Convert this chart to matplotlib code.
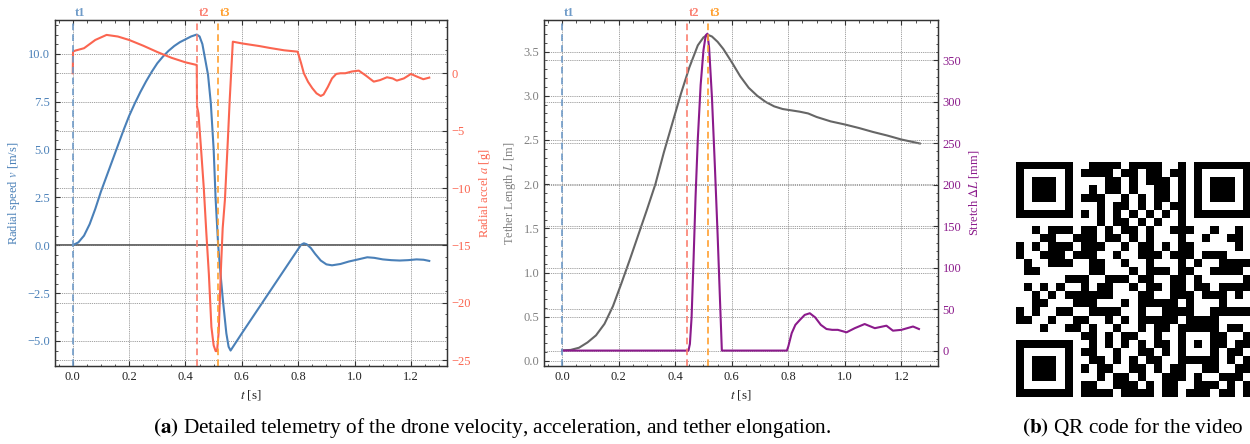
import numpy as np
import matplotlib
matplotlib.use("Agg")
import matplotlib.pyplot as plt
import matplotlib.transforms as mtransforms
from matplotlib.ticker import AutoMinorLocator, MultipleLocator

plt.rcParams.update({
    "font.family": ["Liberation Serif", "DejaVu Serif"],
    "mathtext.fontset": "stix",
    "font.size": 9,
    "xtick.direction": "in",
    "ytick.direction": "in",
    "xtick.major.size": 3.5,
    "xtick.minor.size": 1.8,
    "ytick.major.size": 3.5,
    "ytick.minor.size": 1.8,
    "axes.linewidth": 0.9,
})

# event markers [s]
T1, T2, T3 = 0.0, 0.441, 0.515

# radial speed v [m/s]
t_speed = [0.000, 0.020, 0.040, 0.060, 0.080, 0.100, 0.120, 0.140, 0.160, 0.180,
           0.200, 0.220, 0.240, 0.260, 0.280, 0.300, 0.320, 0.340, 0.360, 0.380,
           0.400, 0.420, 0.440, 0.450, 0.460, 0.470, 0.480, 0.490, 0.500, 0.507,
           0.516, 0.525, 0.533, 0.545, 0.553, 0.560, 0.600, 0.650, 0.700, 0.750,
           0.800, 0.810, 0.820, 0.830, 0.845, 0.860, 0.880, 0.900, 0.920, 0.950,
           0.980, 1.010, 1.045, 1.070, 1.100, 1.130, 1.160, 1.190, 1.220, 1.245, 1.265]
speed = [0.00, 0.15, 0.50, 1.10, 1.90, 2.80, 3.60, 4.40, 5.20, 6.00,
         6.75, 7.40, 8.00, 8.55, 9.05, 9.50, 9.85, 10.15, 10.40, 10.60,
         10.75, 10.90, 11.00, 10.90, 10.50, 9.70, 8.90, 7.40, 5.00, 2.40,
         0.00, -1.60, -2.90, -4.60, -5.30, -5.50, -4.60, -3.50, -2.40, -1.30,
         -0.20, 0.02, 0.10, 0.05, -0.15, -0.45, -0.80, -1.00, -1.05, -0.98,
         -0.85, -0.75, -0.63, -0.66, -0.74, -0.78, -0.80, -0.78, -0.74, -0.76, -0.82]

# radial acceleration a [g]
t_accel = [0.000, 0.001, 0.010, 0.040, 0.080, 0.120, 0.160, 0.200, 0.250, 0.300,
           0.350, 0.400, 0.440, 0.441, 0.446, 0.455, 0.465, 0.474, 0.483, 0.492,
           0.500, 0.507, 0.512, 0.518, 0.525, 0.532, 0.540, 0.550, 0.557, 0.568,
           0.600, 0.662, 0.700, 0.750, 0.798, 0.810, 0.820, 0.835, 0.850, 0.865,
           0.880, 0.890, 0.905, 0.920, 0.935, 0.950, 0.967, 0.990, 1.015, 1.040,
           1.068, 1.090, 1.115, 1.135, 1.150, 1.175, 1.200, 1.222, 1.244, 1.265]
accel = [0.00, 1.90, 1.98, 2.18, 2.90, 3.34, 3.20, 2.90, 2.40, 1.85,
         1.35, 0.95, 0.72, -2.90, -3.50, -6.50, -10.00, -13.90, -17.50, -22.10,
         -23.70, -24.20, -24.20, -22.50, -17.50, -13.50, -11.00, -6.00, -2.30, 2.75,
         2.60, 2.37, 2.20, 2.00, 1.88, 0.90, 0.00, -0.75, -1.30, -1.75,
         -1.98, -1.85, -1.20, -0.45, -0.06, 0.00, 0.00, 0.15, 0.23, -0.20,
         -0.73, -0.60, -0.35, -0.45, -0.64, -0.45, -0.06, -0.30, -0.52, -0.38]

# tether length L [m]
t_len = [0.00, 0.03, 0.06, 0.09, 0.12, 0.15, 0.18, 0.21, 0.24, 0.27,
         0.30, 0.33, 0.36, 0.39, 0.42, 0.45, 0.48, 0.50, 0.515, 0.53,
         0.55, 0.57, 0.60, 0.63, 0.66, 0.69, 0.72, 0.75, 0.78, 0.81,
         0.84, 0.87, 0.90, 0.95, 1.00, 1.05, 1.10, 1.15, 1.20, 1.265]
length = [0.12, 0.125, 0.15, 0.21, 0.29, 0.42, 0.62, 0.88, 1.15, 1.43,
          1.71, 2.00, 2.36, 2.69, 3.02, 3.32, 3.57, 3.66, 3.69, 3.67,
          3.61, 3.53, 3.38, 3.22, 3.09, 3.00, 2.93, 2.88, 2.85, 2.835,
          2.82, 2.80, 2.76, 2.71, 2.675, 2.635, 2.59, 2.55, 2.505, 2.46]

# tether stretch dL [mm]
t_stretch = [0.000, 0.447, 0.452, 0.458, 0.465, 0.472, 0.480, 0.490, 0.500, 0.508,
             0.514, 0.520, 0.530, 0.540, 0.550, 0.558, 0.565, 0.795, 0.800, 0.812,
             0.825, 0.841, 0.858, 0.876, 0.895, 0.915, 0.935, 0.955, 0.975, 1.006,
             1.035, 1.070, 1.106, 1.147, 1.170, 1.200, 1.241, 1.262]
stretch = [0, 0, 8, 40, 110, 185, 255, 320, 362, 380,
           382, 365, 305, 225, 140, 65, 0, 0, 5, 21,
           31, 37, 43, 45, 40, 31, 26, 25, 25, 22,
           27, 32, 27, 30, 24, 25, 29, 26]

# QR code modules ('#' = dark)
qr_rows = [
    "#######..####.####..#.#######",
    "#.....#.####.##.##.##.#.....#",
    "#.###.#....##.#.###.#.#.###.#",
    "#.###.#..#.##.#..##.#.#.###.#",
    "#.###.#.###..#.#.##.#.#.###.#",
    "#.....#...#.##.#.#.##.#.....#",
    "#######.#.#.#.#.#.#.#.#######",
    "..........#.##.#.#..#........",
    "..#.###.##.#.##.#..###..#..#.",
    "...##..###.##.#.#...#..#..##.",
    "#.#.###.###..#.##.#.##.....#.",
    "#..###.###..#..###.###.###...",
    ".#..###..##..#..#...#.#..####",
    ".##......##...#.###.##..####.",
    "......###..###.##..##.#.....#",
    ".#.#.#..#.##..#.##.##.##.####",
    "..#.#.######...##..###.###.#.",
    "..##...###...#.#####.#...#...",
    "#.#..##..####..#..####..#####",
    "##..#..##..#.#.#####.####....",
    "...#..##.#..#..#.##.#####.##.",
    "........##.#.##..#..#...##..#",
    "#######..#.#.#.#.##.#.#.##.##",
    "#.....#.##..#..##.#.#...#.##.",
    "#.###.#..##.#.#.##..#####.#.#",
    "#.###.#.#.##..##.#.##..##..##",
    "#.###.#...#.##.#..###.#..###.",
    "#.....#.##..###.#.##..###.#.#",
    "#######.####.####.##.###.##.#",
]

C_V = "#4a80b8"
C_A = "#fb6550"
C_L = "#666666"
C_S = "#8b1a8b"
EVENTS = [(T1, "t1", "#6f9bc8"), (T2, "t2", "#fb7f70"), (T3, "t3", "#ffa030")]
XLIM = (-0.063, 1.328)


def style_axes(ax, twin, ycolor_left, ycolor_right):
    ax.set_xlim(*XLIM)
    ax.xaxis.set_major_locator(MultipleLocator(0.2))
    ax.xaxis.set_minor_locator(AutoMinorLocator(4))
    ax.yaxis.set_minor_locator(AutoMinorLocator(5))
    twin.yaxis.set_minor_locator(AutoMinorLocator(5))
    ax.tick_params(which="both", top=True, right=False, colors="#333333")
    ax.tick_params(axis="y", labelcolor=ycolor_left)
    ax.tick_params(axis="x", labelcolor="#222222")
    twin.tick_params(which="both", colors="#333333")
    twin.tick_params(axis="y", labelcolor=ycolor_right)
    grid_kw = dict(ls=(0, (1.6, 1.2)), lw=0.55, color="#8a8a8a")
    ax.grid(True, which="major", **grid_kw)
    twin.grid(True, which="major", axis="y", **grid_kw)
    for sp in list(ax.spines.values()) + list(twin.spines.values()):
        sp.set_color("#333333")
    ax.set_xlabel("$t$ [s]", fontsize=9.5, color="#222222")
    # event lines and their tags above the frame
    trans = mtransforms.offset_copy(ax.get_xaxis_transform(), fig=ax.figure,
                                    x=1.2, y=0.5, units="points")
    for t_ev, name, col in EVENTS:
        twin.axvline(t_ev, color=col, ls="--", lw=1.2, dashes=(4, 2.5))
        ax.text(t_ev, 1.0, name, transform=trans, color=col, fontsize=9,
                fontweight="bold", ha="left", va="bottom")


fig = plt.figure(figsize=(12.5, 4.44), dpi=100)

# (a) left: radial speed and acceleration
ax1 = fig.add_axes([0.044, 0.1764, 0.3136, 0.7786])
ax1b = ax1.twinx()
ax1.axhline(0, color="#444444", lw=1.1)
ax1.plot(t_speed, speed, color=C_V, lw=1.5)
ax1b.plot(t_accel, accel, color=C_A, lw=1.5)
ax1.set_ylim(-6.29, 11.76)
ax1b.set_ylim(-25.47, 4.64)
ax1.yaxis.set_major_locator(MultipleLocator(2.5))
ax1b.yaxis.set_major_locator(MultipleLocator(5))
ax1.set_ylabel("Radial speed $v$ [m/s]", color=C_V, fontsize=9)
ax1b.set_ylabel("Radial accel $a$ [g]", color=C_A, fontsize=9)
style_axes(ax1, ax1b, C_V, C_A)

# (a) right: tether length and stretch
ax2 = fig.add_axes([0.4354, 0.1764, 0.3147, 0.7786])
ax2b = ax2.twinx()
ax2.plot(t_len, length, color=C_L, lw=1.5)
ax2b.plot(t_stretch, stretch, color=C_S, lw=1.5)
ax2.set_ylim(-0.053, 3.857)
ax2b.set_ylim(-18.2, 398.5)
ax2.yaxis.set_major_locator(MultipleLocator(0.5))
ax2b.yaxis.set_major_locator(MultipleLocator(50))
ax2.set_ylabel("Tether Length $L$ [m]", color="#808080", fontsize=9)
ax2b.set_ylabel("Stretch $\\Delta L$ [mm]", color=C_S, fontsize=9)
style_axes(ax2, ax2b, "#808080", C_S)

# (b) QR code
qr = np.array([[c == "#" for c in row] for row in qr_rows], dtype=float)
axq = fig.add_axes([0.8128, 0.1059, 0.188, 0.5293])
axq.imshow(qr, cmap="gray_r", interpolation="nearest", aspect="auto")
axq.axis("off")

fig.text(0.394, 0.036, "$\\mathbf{(a)}$ Detailed telemetry of the drone velocity, "
         "acceleration, and tether elongation.", ha="center", va="center",
         fontsize=15.3)
fig.text(0.906, 0.036, "$\\mathbf{(b)}$ QR code for the video", ha="center",
         va="center", fontsize=15.3)

fig.savefig("out.png", dpi=100)
